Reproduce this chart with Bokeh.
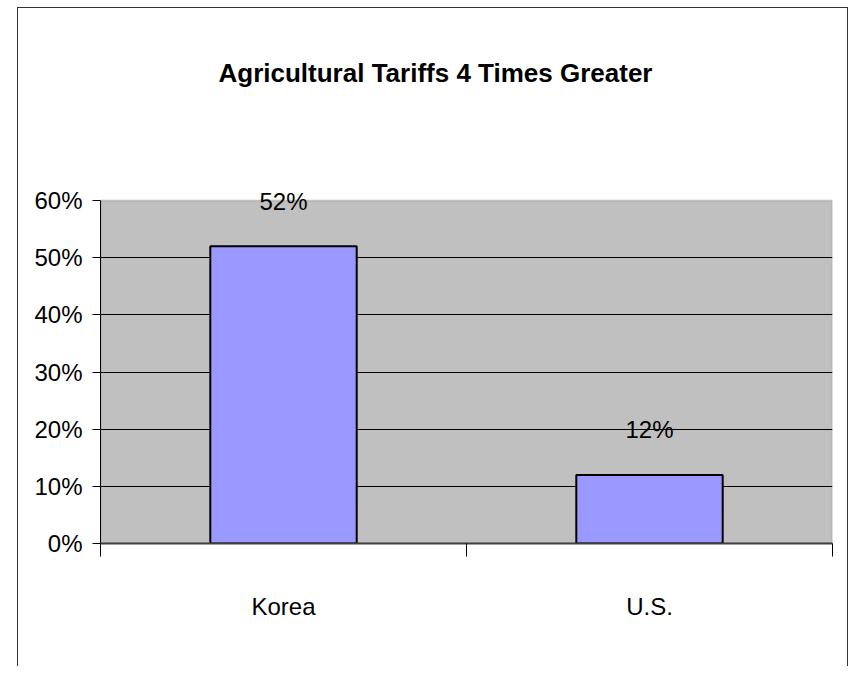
from bokeh.plotting import figure
from bokeh.models import (ColumnDataSource, FixedTicker, NumeralTickFormatter,
                          CustomJSTickFormatter, Label, Range1d, Title, BoxAnnotation)
from bokeh.embed import file_html
from bokeh.resources import INLINE

categories = ["Korea", "U.S."]
tariffs = [0.52, 0.12]
y_ticks = [0.0, 0.1, 0.2, 0.3, 0.4, 0.5, 0.6]
title_text = "Agricultural Tariffs 4 Times Greater"

FONT = "Liberation Sans"

xs = [i + 0.5 for i in range(len(categories))]
labels = [f"{v:.0%}" for v in tariffs]
src = ColumnDataSource(dict(x=xs, top=tariffs, label=labels, cat=categories))

# frame extends above the gray plot area so value labels are not clipped
FRAME_H = 409
AREA_H = 343
y_end = y_ticks[-1] * FRAME_H / AREA_H

p = figure(width=831, height=659, output_backend="svg", toolbar_location=None,
           x_range=Range1d(0, len(categories)), y_range=Range1d(0, y_end),
           min_border_left=82, min_border_right=17, min_border_top=126,
           min_border_bottom=124)
p.margin = (7, 0, 0, 17)
p.styles = {"border-left": "1px solid #333333", "border-top": "1px solid #333333",
            "border-right": "1px solid #333333"}

p.background_fill_color = "white"
p.border_fill_color = "white"
p.outline_line_color = None

area = BoxAnnotation(left=0, right=len(categories), bottom=y_ticks[0], top=y_ticks[-1],
                     fill_color="#C0C0C0", fill_alpha=1.0, line_color="#808080",
                     line_width=2, level="image")
p.add_layout(area)

t = Title(text=title_text, align="left", offset=118, standoff=94,
          text_font=FONT, text_font_size="26px", text_font_style="bold",
          text_color="black")
p.add_layout(t, "above")

p.vbar(x="x", top="top", width=0.4, source=src, fill_color="#9999FF",
       line_color="black", line_width=2)

for xv, yv, lv in zip(xs, tariffs, labels):
    p.add_layout(Label(x=xv, y=yv, text=lv, y_offset=45, text_align="center",
                       text_baseline="middle", text_font=FONT,
                       text_font_size="24px", text_color="black"))

# y axis
p.yaxis.ticker = FixedTicker(ticks=y_ticks)
p.yaxis.bounds = (y_ticks[0], y_ticks[-1])
p.yaxis.formatter = NumeralTickFormatter(format="0%")
p.yaxis.major_label_text_font = FONT
p.yaxis.major_label_text_font_size = "24px"
p.yaxis.major_label_text_color = "black"
p.yaxis.axis_line_color = "black"
p.yaxis.major_tick_out = 8
p.yaxis.major_tick_in = 0
p.yaxis.major_tick_line_color = "black"
p.yaxis.minor_tick_line_color = None
p.yaxis.major_label_standoff = 10

# x axis
p.xaxis.ticker = FixedTicker(ticks=xs, minor_ticks=list(range(len(categories) + 1)))
p.xaxis.formatter = CustomJSTickFormatter(args=dict(cats=categories),
                                          code="return cats[Math.floor(tick)];")
p.xaxis.major_label_text_font = FONT
p.xaxis.major_label_text_font_size = "24px"
p.xaxis.major_label_text_color = "black"
p.xaxis.axis_line_color = "#404040"
p.xaxis.axis_line_width = 2
p.xaxis.major_tick_line_color = None
p.xaxis.major_tick_out = 0
p.xaxis.minor_tick_out = 13
p.xaxis.minor_tick_in = 0
p.xaxis.minor_tick_line_color = "black"
p.xaxis.major_label_standoff = 36

p.xgrid.grid_line_color = None
p.ygrid.ticker = FixedTicker(ticks=y_ticks[1:-1])
p.ygrid.grid_line_color = "black"
p.ygrid.grid_line_width = 1

open("out.html", "w").write(file_html(p, INLINE))
